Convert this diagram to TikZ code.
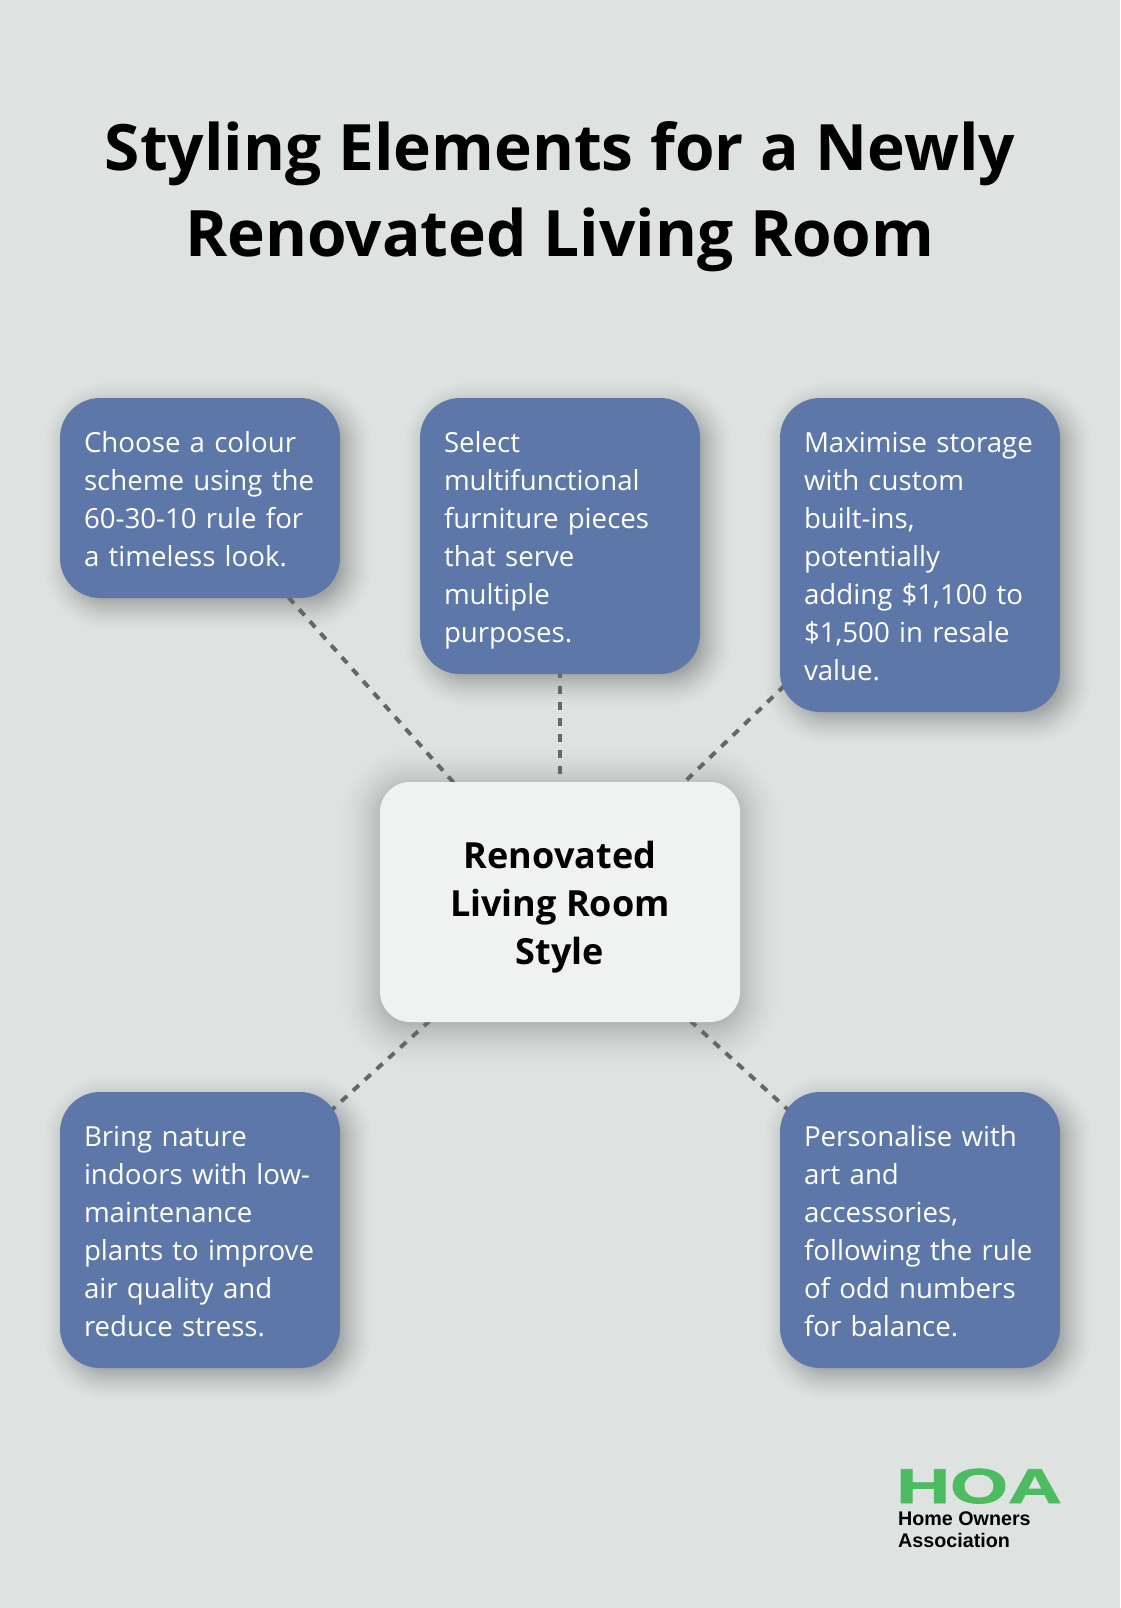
\documentclass[tikz,border=0pt]{standalone}
\usepackage{fontspec}
\setmainfont{Open Sans}
\newfontfamily\logofont{Liberation Sans}
\newfontfamily\hoafont[BoldFeatures={FakeBold=1.5}]{Liberation Sans}
\usetikzlibrary{calc}
\definecolor{pagebg}{HTML}{DEE2E1}
\definecolor{boxblue}{HTML}{5D77A9}
\definecolor{boxlight}{HTML}{F0F2F1}
\definecolor{linkgrey}{HTML}{666666}
\definecolor{logogreen}{HTML}{4DBB5F}
\pgfdeclarelayer{pagelayer}
\pgfdeclarelayer{shadowlayer}
\pgfdeclarelayer{linklayer}
\pgfsetlayers{pagelayer,shadowlayer,linklayer,main}
% #1 node, #2 dx, #3 dy, #4 innermost, #5 second value, #6 outermost, #7 radius, #8 base opacity, #9 slope
\newcommand{\softshadow}[9]{%
  \foreach \i in {#4,#5,...,#6}{%
    \pgfmathsetmacro{\rr}{max(#7+\i,2)}%
    \pgfmathsetmacro{\op}{#8+#9*(1-(\i-(#4))/((#6)-(#4)))}%
    \fill[black,opacity=\op,rounded corners=\rr pt]
      ($(#1.south west)+({#2-\i},{#3+\i})$) rectangle ($(#1.north east)+({#2+\i},{#3-\i})$);
  }%
}
\newcommand{\topstrut}{\rule{0pt}{28.8pt}}
\newcommand{\botstrut}{\rule[-5.2pt]{0pt}{5.2pt}}
\tikzset{
  x=1pt,y=-1pt,
  bluebox/.style={fill=boxblue,text=white,rounded corners=40pt,inner sep=0pt,
    minimum width=280pt,text width=232pt,align=left,
    font=\fontsize{27.65}{38}\selectfont},
  hubbox/.style={fill=boxlight,text=black,rounded corners=30pt,inner sep=0pt,
    minimum width=360pt,minimum height=240pt,align=center,
    font=\fontsize{36}{48}\selectfont\bfseries},
  titletext/.style={text=black,align=center,inner sep=0pt,
    font=\fontsize{64}{86}\selectfont\bfseries},
  link/.style={draw=linkgrey,line width=4pt,dash pattern=on 8pt off 8pt},
  logoword/.style={anchor=base west,inner sep=0pt,text=black,
    font=\logofont\bfseries\fontsize{19.7}{22}\selectfont},
}
\begin{document}
\begin{tikzpicture}
\useasboundingbox (0,0) rectangle (1120,1608);
\begin{pgfonlayer}{pagelayer}
\fill[pagebg] (0,0) rectangle (1120,1608);
\end{pgfonlayer}

\node[titletext] (title) at (560,197) {Styling Elements for a Newly\\Renovated Living Room};

\node[bluebox,minimum height=200pt] (b1) at (200,498) {\topstrut Choose a colour\\scheme using the\\60-30-10 rule for\\a timeless look.\botstrut};
\node[bluebox,minimum height=276pt] (b2) at (560,536) {\topstrut Select\\multifunctional\\furniture pieces\\that serve\\multiple\\purposes.\botstrut};
\node[bluebox,minimum height=314pt] (b3) at (920,555) {\topstrut Maximise storage\\with custom\\built-ins,\\potentially\\adding \$1,100 to\\\$1,500 in resale\\value.\botstrut};
\node[hubbox] (hub) at (560,902) {\rule{0pt}{37pt}Renovated\\Living Room\\Style\rule[-7pt]{0pt}{7pt}};
\node[bluebox,minimum height=276pt] (b4) at (200,1230) {\topstrut Bring nature\\indoors with low-\\maintenance\\plants to improve\\air quality and\\reduce stress.\botstrut};
\node[bluebox,minimum height=276pt] (b5) at (920,1230) {\topstrut Personalise with\\art and\\accessories,\\following the rule\\of odd numbers\\for balance.\botstrut};

\begin{pgfonlayer}{linklayer}
  \foreach \b in {b1,b2,b3,b4,b5}{\draw[link] (hub.center) -- (\b.center);}
\end{pgfonlayer}
\begin{pgfonlayer}{shadowlayer}
  \foreach \b in {b1,b2,b3,b4,b5}{\softshadow{\b}{8}{8}{-8}{-6}{24}{40}{0.006}{0.016}}
  \softshadow{hub}{0}{5}{-5}{-2}{40}{30}{0.004}{0.016}
\end{pgfonlayer}

\node[anchor=base west,inner sep=0pt,text=logogreen,xscale=1.52,
  font=\hoafont\bfseries\fontsize{49}{49}\selectfont] (hoa) at (896,1503) {HOA};
\node[logoword] (home) at (898,1525) {Home Owners};
\node[logoword] (assoc) at (898,1547) {Association};
\end{tikzpicture}
\end{document}
